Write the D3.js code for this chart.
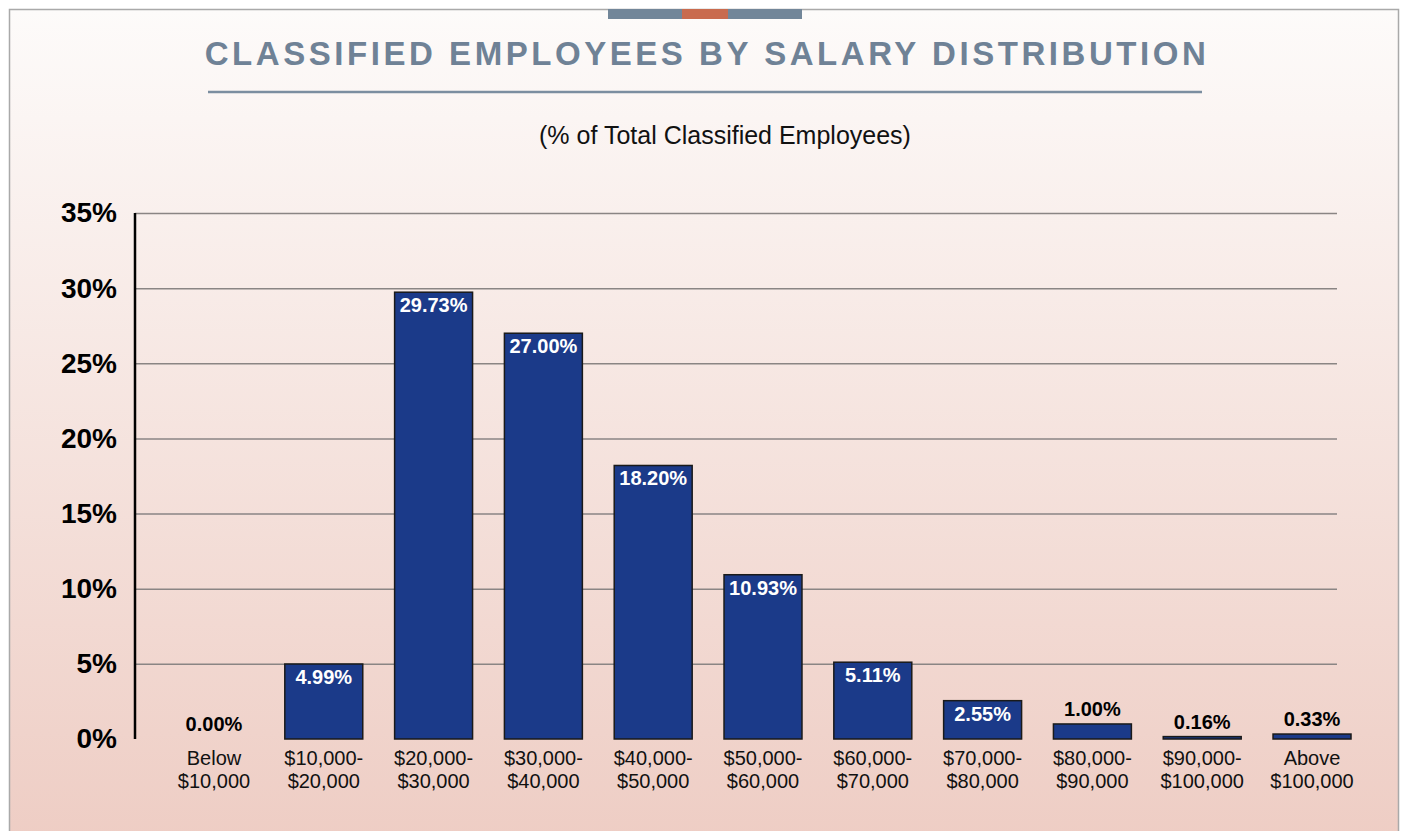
<!DOCTYPE html>
<html>
<head>
<meta charset="utf-8">
<script src="https://cdn.jsdelivr.net/npm/d3@7"></script>
<style>
  body { margin: 0; background: #fff; }
  svg { display: block; }
</style>
</head>
<body>
<div id="chart"></div>
<script>
// Chart data
var categories = ["Below|$10,000", "$10,000-|$20,000", "$20,000-|$30,000", "$30,000-|$40,000",
  "$40,000-|$50,000", "$50,000-|$60,000", "$60,000-|$70,000", "$70,000-|$80,000",
  "$80,000-|$90,000", "$90,000-|$100,000", "Above|$100,000"];
var values = [0.00, 4.99, 29.73, 27.00, 18.20, 10.93, 5.11, 2.55, 1.00, 0.16, 0.33];
var yTicks = [0, 5, 10, 15, 20, 25, 30, 35];

var data = categories.map(function(c, i) { return { cat: c, value: values[i] }; });

var W = 1402, H = 831;
var font = "Liberation Sans, Arial, sans-serif";
var svg = d3.select("#chart").append("svg")
  .attr("width", W)
  .attr("height", H);

// Background gradient
var defs = svg.append("defs");
var grad = defs.append("linearGradient")
  .attr("id", "bg")
  .attr("x1", 0).attr("y1", 0).attr("x2", 0).attr("y2", 1);
grad.append("stop").attr("offset", "0%").attr("stop-color", "#fdfbfa");
grad.append("stop").attr("offset", "100%").attr("stop-color", "#eecdc4");

svg.append("rect")
  .attr("x", 9.5).attr("y", 9.5)
  .attr("width", W - 13).attr("height", H)
  .attr("fill", "url(#bg)")
  .attr("stroke", "#a9a9a9")
  .attr("stroke-width", 1.5);

// Top decoration
svg.append("rect").attr("x", 608).attr("y", 9).attr("width", 194).attr("height", 10).attr("fill", "#728699");
svg.append("rect").attr("x", 682).attr("y", 9).attr("width", 46).attr("height", 10).attr("fill", "#c96b4e");

// Title
svg.append("text")
  .attr("x", 707)
  .attr("y", 65)
  .attr("text-anchor", "middle")
  .style("font-family", font)
  .style("font-size", "33px")
  .style("font-weight", "bold")
  .style("letter-spacing", "3.55px")
  .style("fill", "#6f8296")
  .text("CLASSIFIED EMPLOYEES BY SALARY DISTRIBUTION");

svg.append("line")
  .attr("x1", 208).attr("x2", 1202)
  .attr("y1", 92).attr("y2", 92)
  .attr("stroke", "#7b8ea0")
  .attr("stroke-width", 2.5);

// Subtitle
svg.append("text")
  .attr("x", 725)
  .attr("y", 144)
  .attr("text-anchor", "middle")
  .style("font-family", font)
  .style("font-size", "25px")
  .style("fill", "#111")
  .text("(% of Total Classified Employees)");

// Scales
var y = d3.scaleLinear().domain([0, 35]).range([739, 213]);
var x = d3.scaleBand()
  .domain(categories)
  .range([175, 1351])
  .paddingInner(0.29)
  .paddingOuter(0);

// Gridlines
svg.append("g")
  .attr("class", "grid")
  .attr("transform", "translate(135,0)")
  .call(d3.axisLeft(y).tickValues(yTicks.slice(1)).tickSize(-1202).tickFormat(""))
  .call(function(g) { g.select(".domain").remove(); })
  .selectAll("line")
  .attr("stroke", "#8a8584")
  .attr("stroke-width", 1.5);

// Y axis labels
svg.append("g")
  .attr("class", "y-axis")
  .attr("transform", "translate(135,0)")
  .call(d3.axisLeft(y).tickValues(yTicks).tickSize(0).tickPadding(18).tickFormat(function(d) { return d + "%"; }))
  .call(function(g) { g.select(".domain").remove(); })
  .selectAll("text")
  .style("font-family", font)
  .style("font-size", "28px")
  .style("font-weight", "bold")
  .style("fill", "#000");

// Y axis line
svg.append("line")
  .attr("x1", 135).attr("x2", 135)
  .attr("y1", y(35)).attr("y2", y(0))
  .attr("stroke", "#000")
  .attr("stroke-width", 2.5);

// Bars
svg.selectAll(".bar")
  .data(data)
  .enter().append("rect")
  .attr("class", "bar")
  .attr("x", function(d) { return x(d.cat); })
  .attr("y", function(d) { return y(d.value); })
  .attr("width", x.bandwidth())
  .attr("height", function(d) { return y(0) - y(d.value); })
  .attr("fill", "#1b3a89")
  .attr("stroke", "#1a1a1a")
  .attr("stroke-width", 1.5);

// Value labels
svg.selectAll(".label")
  .data(data)
  .enter().append("text")
  .attr("class", "label")
  .attr("x", function(d) { return x(d.cat) + x.bandwidth() / 2; })
  .attr("y", function(d) { return d.value >= 2 ? y(d.value) + 20 : y(d.value) - 8; })
  .attr("text-anchor", "middle")
  .style("font-family", font)
  .style("font-size", "20px")
  .style("font-weight", "bold")
  .style("fill", function(d) { return d.value >= 2 ? "#fff" : "#000"; })
  .text(function(d) { return d.value.toFixed(2) + "%"; });

// X labels (two lines)
var xl = svg.selectAll(".xlabel")
  .data(data)
  .enter().append("text")
  .attr("class", "xlabel")
  .attr("x", function(d) { return x(d.cat) + x.bandwidth() / 2; })
  .attr("y", 765)
  .attr("text-anchor", "middle")
  .style("font-family", font)
  .style("font-size", "20px")
  .style("fill", "#111");

xl.selectAll("tspan")
  .data(function(d) { return d.cat.split("|").map(function(t) { return { t: t, cx: x(d.cat) + x.bandwidth() / 2 }; }); })
  .enter().append("tspan")
  .attr("x", function(d) { return d.cx; })
  .attr("dy", function(d, i) { return i === 0 ? 0 : 23; })
  .text(function(d) { return d.t; });
</script>
</body>
</html>
